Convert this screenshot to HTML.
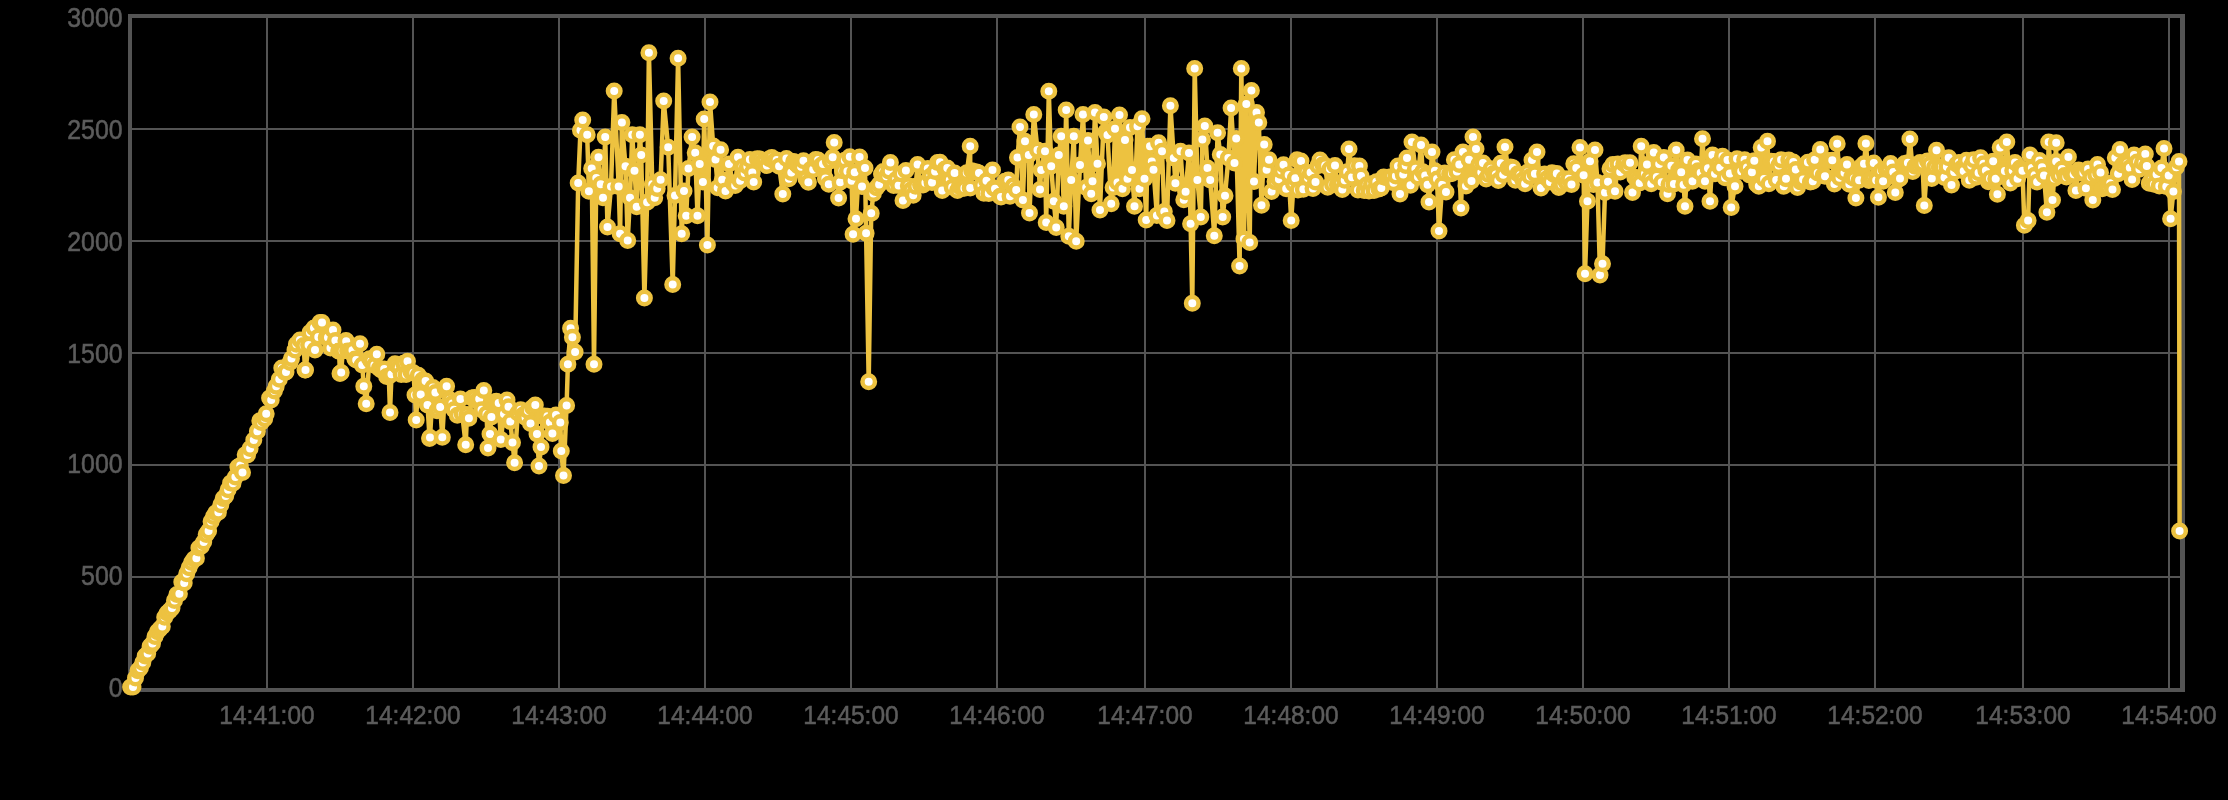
<!DOCTYPE html>
<html><head><meta charset="utf-8"><style>
html,body{margin:0;padding:0;background:#000;width:2228px;height:800px;overflow:hidden}
svg{display:block}
.lab{position:absolute;left:0;top:0;will-change:transform}
text{font-family:"Liberation Sans",sans-serif;font-size:24px;fill:#5c5c5c;stroke:#5c5c5c;stroke-width:0.5px}
</style></head><body>
<svg width="2228" height="800" viewBox="0 0 2228 800">
<rect width="2228" height="800" fill="#000"/>
<g fill="#545454"><rect x="266" y="18" width="2" height="670"/><rect x="412" y="18" width="2" height="670"/><rect x="558" y="18" width="2" height="670"/><rect x="704" y="18" width="2" height="670"/><rect x="850" y="18" width="2" height="670"/><rect x="996" y="18" width="2" height="670"/><rect x="1144" y="18" width="2" height="670"/><rect x="1290" y="18" width="2" height="670"/><rect x="1436" y="18" width="2" height="670"/><rect x="1582" y="18" width="2" height="670"/><rect x="1728" y="18" width="2" height="670"/><rect x="1874" y="18" width="2" height="670"/><rect x="2022" y="18" width="2" height="670"/><rect x="2168" y="18" width="2" height="670"/><rect x="132" y="128" width="2048" height="2"/><rect x="132" y="240" width="2048" height="2"/><rect x="132" y="352" width="2048" height="2"/><rect x="132" y="464" width="2048" height="2"/><rect x="132" y="576" width="2048" height="2"/><rect x="128" y="14" width="2057" height="4"/><rect x="128" y="688" width="2057" height="4"/><rect x="128" y="14" width="4" height="678"/><rect x="2180" y="14" width="5" height="678"/></g>
<path d="M130.6 687.0 L133.0 687.0 L135.5 678.1 L137.9 670.8 L140.4 668.1 L142.8 662.5 L145.2 656.1 L147.7 653.6 L150.1 646.2 L152.5 643.5 L155.0 636.6 L157.4 631.8 L159.9 628.9 L162.3 626.5 L164.7 617.3 L167.2 613.0 L169.6 610.7 L172.0 608.0 L174.5 600.6 L176.9 594.4 L179.4 593.7 L181.8 582.0 L184.2 583.1 L186.7 573.8 L189.1 567.7 L191.6 562.5 L194.0 559.0 L196.4 558.3 L198.9 547.9 L201.3 546.3 L203.7 541.9 L206.2 534.5 L208.6 531.0 L211.1 521.5 L213.5 516.4 L215.9 512.7 L218.4 512.2 L220.8 504.7 L223.2 498.4 L225.7 496.1 L228.1 489.7 L230.6 483.0 L233.0 483.2 L235.4 477.1 L237.9 466.9 L240.3 465.5 L242.5 472.5 L245.2 454.7 L247.5 455.0 L250.1 448.5 L253.8 440.0 L257.4 431.3 L259.8 420.8 L261.2 422.5 L264.7 418.7 L266.2 413.8 L269.6 397.9 L271.2 400.0 L274.4 391.0 L276.2 386.2 L279.3 379.2 L281.8 368.1 L285.0 372.5 L286.0 372.0 L290.0 362.5 L291.5 358.4 L295.0 350.0 L296.4 344.3 L300.0 340.0 L303.7 345.6 L305.0 370.0 L305.5 370.0 L308.6 345.0 L310.0 332.5 L314.0 328.0 L315.0 350.0 L318.3 336.9 L320.0 322.5 L322.0 322.5 L326.2 337.5 L328.0 337.5 L330.5 347.9 L333.0 330.0 L335.4 340.4 L338.8 351.2 L339.0 351.0 L340.0 373.5 L341.2 372.5 L342.7 351.0 L346.0 340.5 L346.2 341.2 L347.6 351.1 L350.0 351.8 L352.5 350.3 L354.9 359.1 L356.2 360.0 L360.0 343.8 L362.2 364.9 L363.8 386.2 L366.2 403.8 L369.5 358.7 L371.2 361.2 L374.4 365.3 L376.8 354.3 L379.3 368.6 L381.2 370.0 L384.2 369.0 L386.6 376.5 L388.8 376.2 L390.0 412.5 L391.5 374.3 L395.0 363.8 L396.3 364.8 L398.8 367.4 L401.2 374.5 L403.7 363.2 L406.1 374.5 L407.5 361.2 L411.0 372.0 L413.4 372.8 L415.0 395.0 L416.2 420.0 L418.3 375.2 L420.7 394.6 L422.5 380.0 L423.2 381.0 L425.6 381.0 L427.4 404.4 L427.5 405.0 L429.6 438.4 L430.0 437.5 L432.9 387.6 L435.4 392.4 L437.0 410.8 L437.5 410.0 L440.2 406.9 L442.3 437.3 L445.1 388.4 L446.6 386.3 L450.0 399.8 L452.4 403.5 L454.0 409.7 L457.3 415.2 L460.4 399.0 L462.2 414.1 L465.7 444.8 L467.0 414.4 L468.9 418.2 L472.0 398.0 L474.4 397.4 L476.8 400.7 L479.2 399.0 L481.6 409.7 L483.8 390.6 L486.5 413.9 L488.0 448.0 L490.0 434.0 L491.4 416.9 L493.3 402.3 L496.3 401.3 L498.7 402.9 L500.8 439.5 L504.0 414.0 L507.0 400.0 L508.5 406.8 L510.3 421.4 L512.5 442.6 L514.6 462.8 L517.8 413.0 L520.7 409.7 L523.1 415.1 L525.6 417.6 L528.0 410.8 L530.5 423.5 L532.6 407.6 L535.3 405.1 L537.0 434.0 L539.0 466.0 L541.0 447.0 L542.6 416.2 L544.3 416.0 L547.5 416.2 L549.9 422.2 L552.4 433.5 L556.0 415.0 L560.3 422.5 L561.3 451.0 L563.5 475.6 L566.6 405.5 L567.9 364.2 L570.6 328.2 L572.4 337.2 L575.1 352.0 L578.2 182.9 L580.5 130.2 L582.7 119.9 L587.2 134.7 L588.9 191.2 L591.7 168.5 L594.0 364.2 L596.3 178.1 L598.5 157.2 L600.7 184.2 L603.0 197.7 L605.2 137.0 L607.5 227.0 L611.0 186.5 L614.2 91.0 L618.7 186.5 L620.1 233.7 L621.9 122.6 L625.5 166.2 L627.7 240.5 L630.0 197.7 L632.2 134.7 L634.5 170.7 L636.7 206.7 L639.9 134.7 L641.2 155.0 L644.4 298.0 L647.1 202.2 L648.9 52.8 L652.3 184.3 L654.7 197.7 L657.2 188.4 L660.6 179.7 L663.7 101.0 L668.2 147.3 L672.7 284.5 L675.0 195.5 L678.1 58.2 L681.7 233.7 L684.0 191.0 L686.2 215.7 L688.5 168.5 L692.1 137.0 L695.2 152.7 L697.5 215.7 L699.7 164.0 L702.9 182.0 L704.2 119.0 L707.4 245.0 L710.0 101.9 L713.2 146.0 L715.5 159.5 L717.7 187.8 L720.6 149.7 L722.2 179.7 L725.5 191.1 L729.0 164.0 L732.8 182.8 L735.2 185.6 L738.0 157.2 L740.1 180.8 L742.5 166.8 L744.7 173.0 L747.4 166.6 L749.9 159.6 L752.3 172.4 L753.7 182.0 L757.2 158.7 L759.6 158.9 L762.0 162.3 L764.5 161.2 L766.9 165.6 L769.4 158.7 L771.8 157.5 L774.2 161.2 L776.7 160.0 L779.1 166.3 L782.8 194.0 L786.4 158.4 L788.9 178.8 L791.3 172.6 L793.7 161.5 L796.2 164.0 L798.6 166.3 L801.1 166.7 L803.5 160.8 L805.9 178.5 L808.4 182.2 L810.8 169.2 L813.2 169.6 L815.7 159.5 L818.1 159.9 L820.6 166.0 L823.0 163.9 L825.4 178.6 L828.8 184.3 L830.3 161.1 L832.7 157.3 L834.2 142.6 L838.6 198.0 L840.1 182.3 L842.5 170.8 L844.9 160.2 L847.4 171.2 L849.8 156.8 L851.6 180.7 L853.1 234.3 L854.7 172.3 L856.0 218.7 L859.6 157.0 L862.0 186.6 L865.0 168.0 L866.1 233.2 L868.7 381.8 L871.2 213.3 L873.4 193.4 L876.6 187.8 L879.1 184.4 L881.5 174.1 L883.2 171.6 L886.4 176.2 L888.8 171.0 L890.4 162.6 L893.7 185.6 L896.1 179.4 L898.6 185.5 L901.0 173.8 L903.0 200.6 L905.9 170.6 L908.3 185.7 L910.8 190.1 L913.2 195.2 L915.6 186.3 L917.6 164.4 L920.5 184.7 L923.0 184.9 L925.4 182.7 L927.8 168.6 L930.3 176.3 L932.0 182.5 L935.1 171.6 L937.6 162.5 L940.0 162.3 L942.2 190.5 L944.9 168.9 L947.3 168.1 L949.8 180.0 L952.2 187.2 L954.6 172.9 L957.5 190.5 L959.5 186.3 L962.0 188.3 L964.4 188.2 L966.8 172.8 L970.2 146.2 L970.2 188.0 L971.7 170.7 L974.1 171.8 L976.6 171.9 L979.0 173.1 L981.5 185.2 L983.9 193.3 L986.5 180.7 L988.8 193.4 L992.5 170.0 L993.7 188.0 L995.0 188.8 L1000.0 196.2 L1001.0 197.0 L1005.0 181.2 L1008.3 179.9 L1010.0 196.2 L1013.2 186.0 L1016.2 190.0 L1017.5 157.5 L1020.0 127.0 L1022.9 200.0 L1025.0 141.2 L1028.8 155.0 L1029.5 213.0 L1033.8 114.5 L1037.5 150.0 L1040.0 189.5 L1041.2 170.0 L1045.0 151.2 L1046.2 222.5 L1048.8 91.2 L1051.2 166.2 L1053.8 201.2 L1056.2 227.5 L1058.8 155.0 L1061.2 136.2 L1063.8 206.2 L1066.2 110.0 L1068.8 236.2 L1071.2 180.0 L1073.8 136.2 L1076.2 241.2 L1080.0 165.0 L1083.0 114.5 L1086.2 187.5 L1088.0 140.5 L1091.2 193.8 L1092.5 181.2 L1095.0 112.5 L1097.5 163.8 L1100.0 210.0 L1103.8 117.0 L1105.8 131.7 L1107.5 135.0 L1111.2 203.8 L1113.1 187.4 L1115.0 128.8 L1117.5 182.5 L1119.5 115.0 L1122.5 188.8 L1125.0 140.0 L1127.5 178.8 L1130.0 127.5 L1132.0 170.0 L1134.5 206.2 L1137.5 126.2 L1139.5 188.8 L1142.0 118.8 L1144.5 178.8 L1146.2 220.0 L1147.5 146.2 L1148.8 161.2 L1150.0 146.2 L1151.8 161.4 L1153.5 169.8 L1156.9 215.4 L1158.6 142.8 L1162.0 151.3 L1164.3 211.5 L1167.0 220.5 L1170.4 105.7 L1173.8 158.0 L1175.4 183.3 L1180.5 151.3 L1183.8 199.7 L1185.6 191.8 L1189.0 153.0 L1190.6 223.8 L1192.3 303.2 L1194.7 68.6 L1197.4 180.0 L1200.8 217.0 L1202.4 139.5 L1204.8 126.0 L1207.5 168.1 L1210.2 180.0 L1214.3 235.7 L1217.6 132.7 L1220.3 154.6 L1222.7 217.0 L1225.0 195.8 L1228.4 158.0 L1231.1 108.0 L1234.5 163.0 L1236.2 138.4 L1239.6 266.0 L1241.3 68.6 L1244.0 239.0 L1246.3 104.0 L1249.7 242.4 L1251.4 90.5 L1254.0 181.6 L1256.5 112.4 L1258.8 122.6 L1261.5 205.3 L1264.2 144.5 L1266.6 169.8 L1269.0 159.7 L1271.6 191.5 L1275.0 181.6 L1278.9 179.3 L1281.3 170.4 L1283.5 164.8 L1286.2 188.7 L1288.7 175.0 L1291.2 220.5 L1293.5 184.0 L1295.3 178.3 L1297.0 159.7 L1298.0 190.0 L1301.0 161.0 L1303.3 189.2 L1305.7 172.2 L1308.0 178.0 L1310.6 172.4 L1313.0 188.4 L1315.5 182.0 L1317.9 165.8 L1320.0 160.0 L1322.8 164.7 L1325.2 165.5 L1327.7 187.3 L1330.0 169.0 L1332.5 184.4 L1335.0 165.6 L1337.4 185.0 L1340.0 184.0 L1342.3 189.4 L1344.7 180.3 L1347.2 171.7 L1349.0 149.0 L1352.0 177.3 L1354.5 165.7 L1358.0 190.0 L1359.4 166.1 L1361.0 176.0 L1364.2 190.6 L1366.7 184.7 L1369.0 191.0 L1371.5 183.8 L1374.0 190.5 L1376.4 181.7 L1378.9 189.1 L1381.3 188.1 L1383.7 177.1 L1386.2 177.5 L1388.6 178.0 L1391.0 176.8 L1393.5 182.7 L1395.9 176.0 L1398.0 166.0 L1400.0 194.0 L1403.2 174.6 L1405.7 165.5 L1407.0 158.0 L1410.5 185.3 L1412.0 142.0 L1415.4 168.7 L1418.0 177.0 L1421.0 145.0 L1422.7 171.8 L1425.2 175.4 L1427.6 184.7 L1429.0 202.0 L1432.0 152.0 L1434.9 170.7 L1437.0 179.0 L1439.0 231.0 L1442.2 184.8 L1444.7 173.0 L1446.0 192.0 L1449.6 173.9 L1452.0 173.6 L1454.4 159.8 L1456.9 171.4 L1459.3 164.4 L1461.0 208.0 L1463.0 152.0 L1466.0 186.0 L1469.1 159.8 L1471.5 180.9 L1473.0 137.0 L1476.0 149.0 L1478.8 164.5 L1481.3 172.3 L1483.0 163.0 L1486.1 178.9 L1488.6 174.6 L1491.0 168.7 L1493.4 173.6 L1495.9 174.6 L1498.3 180.5 L1500.8 163.2 L1503.2 174.8 L1505.0 147.0 L1508.0 168.0 L1510.5 167.0 L1512.9 167.8 L1515.4 180.3 L1517.8 173.7 L1520.3 175.0 L1522.7 180.0 L1525.1 183.8 L1527.6 172.2 L1530.0 176.4 L1532.0 160.0 L1534.9 173.8 L1537.0 152.0 L1541.0 188.0 L1544.6 174.1 L1547.1 178.5 L1550.0 182.0 L1552.0 172.7 L1554.4 174.7 L1556.8 173.4 L1558.8 187.5 L1561.7 184.6 L1564.1 178.7 L1566.6 183.0 L1568.8 178.8 L1571.5 184.5 L1573.8 163.8 L1576.3 168.0 L1580.0 147.5 L1583.6 175.2 L1585.0 273.8 L1587.5 201.2 L1590.0 161.2 L1593.4 184.4 L1595.0 150.0 L1597.5 182.5 L1600.0 275.0 L1602.5 263.8 L1605.0 192.5 L1608.0 181.7 L1610.0 168.8 L1612.9 164.6 L1615.0 191.2 L1617.8 164.1 L1620.2 171.9 L1623.8 163.8 L1625.1 162.8 L1627.5 166.9 L1630.0 162.8 L1632.5 192.5 L1634.8 177.3 L1637.3 180.1 L1639.7 182.9 L1641.2 146.2 L1645.0 173.8 L1647.0 164.5 L1649.5 178.3 L1651.2 183.8 L1653.8 152.5 L1656.8 176.9 L1659.2 164.1 L1661.7 182.3 L1663.8 157.5 L1667.5 193.8 L1669.0 184.4 L1671.4 165.8 L1673.9 184.0 L1676.2 150.0 L1678.7 170.1 L1681.2 172.3 L1683.6 184.8 L1685.0 206.2 L1687.5 160.0 L1690.9 180.8 L1692.5 181.2 L1695.8 164.0 L1698.2 170.8 L1700.7 172.8 L1702.5 138.8 L1705.0 181.2 L1708.0 168.3 L1710.0 201.2 L1712.5 155.0 L1715.0 173.8 L1717.7 164.6 L1720.2 167.6 L1722.5 156.2 L1725.1 177.8 L1727.5 160.0 L1729.9 173.5 L1731.2 207.5 L1735.0 186.2 L1737.0 158.8 L1739.7 170.5 L1741.2 171.2 L1744.6 159.7 L1747.0 167.6 L1749.4 175.0 L1751.9 172.2 L1754.3 160.8 L1756.7 184.2 L1758.8 186.2 L1761.2 147.5 L1764.1 179.1 L1767.5 141.2 L1768.9 183.7 L1771.2 161.2 L1773.8 161.5 L1776.2 180.0 L1778.7 165.6 L1781.1 159.7 L1783.8 186.2 L1786.0 178.7 L1788.8 160.0 L1790.9 165.5 L1793.3 161.9 L1795.8 169.4 L1797.5 187.5 L1800.6 181.9 L1803.1 179.5 L1805.5 165.0 L1807.9 162.2 L1810.4 182.1 L1812.8 181.2 L1814.7 159.7 L1817.7 173.0 L1820.3 149.4 L1823.1 175.6 L1825.0 176.3 L1827.4 160.4 L1830.6 160.6 L1832.3 160.2 L1834.4 184.0 L1837.2 143.7 L1839.6 177.8 L1841.9 170.9 L1844.5 172.7 L1847.0 164.6 L1849.4 184.2 L1851.8 177.1 L1854.0 178.4 L1855.9 198.1 L1859.1 180.3 L1861.5 166.2 L1864.0 163.8 L1865.9 143.4 L1868.9 180.6 L1871.9 179.4 L1873.8 162.9 L1876.2 180.2 L1878.4 197.2 L1881.1 170.9 L1883.1 181.2 L1885.9 169.0 L1888.4 167.9 L1890.6 163.4 L1893.3 172.1 L1895.3 192.5 L1898.2 179.6 L1900.0 178.4 L1903.0 165.7 L1904.7 163.4 L1907.9 162.8 L1909.9 139.0 L1912.8 171.4 L1915.0 166.2 L1917.7 165.2 L1920.1 162.4 L1922.5 163.6 L1924.3 205.6 L1927.4 161.1 L1929.8 164.5 L1931.8 178.4 L1934.7 167.1 L1936.5 150.3 L1939.3 167.2 L1942.0 167.0 L1944.5 177.6 L1946.9 166.8 L1948.7 157.8 L1951.5 185.0 L1954.2 171.9 L1956.7 164.2 L1959.0 162.5 L1961.5 168.3 L1963.7 170.9 L1966.4 160.2 L1969.3 180.3 L1971.3 165.6 L1973.7 159.8 L1976.2 177.2 L1978.6 172.7 L1980.6 157.8 L1983.5 163.7 L1985.9 170.6 L1988.4 181.8 L1990.0 178.4 L1993.2 161.3 L1995.7 178.8 L1997.4 194.3 L2000.2 147.5 L2003.0 169.0 L2004.9 170.9 L2006.8 141.9 L2010.3 183.1 L2012.7 170.4 L2015.0 162.5 L2017.6 178.8 L2020.0 168.0 L2022.5 170.8 L2024.4 225.3 L2028.1 220.6 L2030.0 155.0 L2031.9 168.1 L2034.7 175.2 L2037.1 182.0 L2039.4 160.6 L2042.0 167.2 L2044.0 175.6 L2046.9 212.2 L2048.7 141.9 L2052.5 200.0 L2054.2 178.4 L2056.2 142.8 L2056.2 161.5 L2059.1 175.6 L2061.9 169.0 L2064.7 175.6 L2066.4 177.1 L2068.4 156.9 L2071.2 174.3 L2073.7 174.2 L2075.9 190.6 L2078.6 170.1 L2081.0 172.9 L2083.4 172.8 L2085.9 188.2 L2088.1 169.0 L2090.8 177.0 L2092.8 200.0 L2095.6 174.6 L2097.5 164.4 L2100.5 172.5 L2102.2 188.7 L2105.4 187.5 L2107.8 187.7 L2110.3 183.2 L2112.5 189.6 L2115.3 157.8 L2118.1 173.7 L2120.0 149.4 L2122.4 165.0 L2124.9 161.9 L2127.3 163.4 L2129.8 167.8 L2132.1 179.4 L2134.0 155.0 L2137.1 161.9 L2139.5 169.2 L2142.5 162.5 L2145.3 154.0 L2146.8 166.1 L2149.3 183.2 L2151.8 179.4 L2154.1 184.3 L2156.6 174.5 L2159.3 185.9 L2161.5 168.1 L2164.0 148.4 L2166.3 186.6 L2168.7 175.6 L2170.6 218.7 L2173.4 191.5 L2176.2 167.2 L2179.0 161.5 L2179.6 531.0" fill="none" stroke="#EDC240" stroke-width="4.5" stroke-linejoin="round"/>
<g fill="#fff" stroke="#EDC240" stroke-width="4.5"><circle cx="130.6" cy="687.0" r="6.25"/><circle cx="133.0" cy="687.0" r="6.25"/><circle cx="135.5" cy="678.1" r="6.25"/><circle cx="137.9" cy="670.8" r="6.25"/><circle cx="140.4" cy="668.1" r="6.25"/><circle cx="142.8" cy="662.5" r="6.25"/><circle cx="145.2" cy="656.1" r="6.25"/><circle cx="147.7" cy="653.6" r="6.25"/><circle cx="150.1" cy="646.2" r="6.25"/><circle cx="152.5" cy="643.5" r="6.25"/><circle cx="155.0" cy="636.6" r="6.25"/><circle cx="157.4" cy="631.8" r="6.25"/><circle cx="159.9" cy="628.9" r="6.25"/><circle cx="162.3" cy="626.5" r="6.25"/><circle cx="164.7" cy="617.3" r="6.25"/><circle cx="167.2" cy="613.0" r="6.25"/><circle cx="169.6" cy="610.7" r="6.25"/><circle cx="172.0" cy="608.0" r="6.25"/><circle cx="174.5" cy="600.6" r="6.25"/><circle cx="176.9" cy="594.4" r="6.25"/><circle cx="179.4" cy="593.7" r="6.25"/><circle cx="181.8" cy="582.0" r="6.25"/><circle cx="184.2" cy="583.1" r="6.25"/><circle cx="186.7" cy="573.8" r="6.25"/><circle cx="189.1" cy="567.7" r="6.25"/><circle cx="191.6" cy="562.5" r="6.25"/><circle cx="194.0" cy="559.0" r="6.25"/><circle cx="196.4" cy="558.3" r="6.25"/><circle cx="198.9" cy="547.9" r="6.25"/><circle cx="201.3" cy="546.3" r="6.25"/><circle cx="203.7" cy="541.9" r="6.25"/><circle cx="206.2" cy="534.5" r="6.25"/><circle cx="208.6" cy="531.0" r="6.25"/><circle cx="211.1" cy="521.5" r="6.25"/><circle cx="213.5" cy="516.4" r="6.25"/><circle cx="215.9" cy="512.7" r="6.25"/><circle cx="218.4" cy="512.2" r="6.25"/><circle cx="220.8" cy="504.7" r="6.25"/><circle cx="223.2" cy="498.4" r="6.25"/><circle cx="225.7" cy="496.1" r="6.25"/><circle cx="228.1" cy="489.7" r="6.25"/><circle cx="230.6" cy="483.0" r="6.25"/><circle cx="233.0" cy="483.2" r="6.25"/><circle cx="235.4" cy="477.1" r="6.25"/><circle cx="237.9" cy="466.9" r="6.25"/><circle cx="240.3" cy="465.5" r="6.25"/><circle cx="242.5" cy="472.5" r="6.25"/><circle cx="245.2" cy="454.7" r="6.25"/><circle cx="247.5" cy="455.0" r="6.25"/><circle cx="250.1" cy="448.5" r="6.25"/><circle cx="253.8" cy="440.0" r="6.25"/><circle cx="257.4" cy="431.3" r="6.25"/><circle cx="259.8" cy="420.8" r="6.25"/><circle cx="261.2" cy="422.5" r="6.25"/><circle cx="264.7" cy="418.7" r="6.25"/><circle cx="266.2" cy="413.8" r="6.25"/><circle cx="269.6" cy="397.9" r="6.25"/><circle cx="271.2" cy="400.0" r="6.25"/><circle cx="274.4" cy="391.0" r="6.25"/><circle cx="276.2" cy="386.2" r="6.25"/><circle cx="279.3" cy="379.2" r="6.25"/><circle cx="281.8" cy="368.1" r="6.25"/><circle cx="285.0" cy="372.5" r="6.25"/><circle cx="286.0" cy="372.0" r="6.25"/><circle cx="290.0" cy="362.5" r="6.25"/><circle cx="291.5" cy="358.4" r="6.25"/><circle cx="295.0" cy="350.0" r="6.25"/><circle cx="296.4" cy="344.3" r="6.25"/><circle cx="300.0" cy="340.0" r="6.25"/><circle cx="303.7" cy="345.6" r="6.25"/><circle cx="305.0" cy="370.0" r="6.25"/><circle cx="305.5" cy="370.0" r="6.25"/><circle cx="308.6" cy="345.0" r="6.25"/><circle cx="310.0" cy="332.5" r="6.25"/><circle cx="314.0" cy="328.0" r="6.25"/><circle cx="315.0" cy="350.0" r="6.25"/><circle cx="318.3" cy="336.9" r="6.25"/><circle cx="320.0" cy="322.5" r="6.25"/><circle cx="322.0" cy="322.5" r="6.25"/><circle cx="326.2" cy="337.5" r="6.25"/><circle cx="328.0" cy="337.5" r="6.25"/><circle cx="330.5" cy="347.9" r="6.25"/><circle cx="333.0" cy="330.0" r="6.25"/><circle cx="335.4" cy="340.4" r="6.25"/><circle cx="338.8" cy="351.2" r="6.25"/><circle cx="339.0" cy="351.0" r="6.25"/><circle cx="340.0" cy="373.5" r="6.25"/><circle cx="341.2" cy="372.5" r="6.25"/><circle cx="342.7" cy="351.0" r="6.25"/><circle cx="346.0" cy="340.5" r="6.25"/><circle cx="346.2" cy="341.2" r="6.25"/><circle cx="347.6" cy="351.1" r="6.25"/><circle cx="350.0" cy="351.8" r="6.25"/><circle cx="352.5" cy="350.3" r="6.25"/><circle cx="354.9" cy="359.1" r="6.25"/><circle cx="356.2" cy="360.0" r="6.25"/><circle cx="360.0" cy="343.8" r="6.25"/><circle cx="362.2" cy="364.9" r="6.25"/><circle cx="363.8" cy="386.2" r="6.25"/><circle cx="366.2" cy="403.8" r="6.25"/><circle cx="369.5" cy="358.7" r="6.25"/><circle cx="371.2" cy="361.2" r="6.25"/><circle cx="374.4" cy="365.3" r="6.25"/><circle cx="376.8" cy="354.3" r="6.25"/><circle cx="379.3" cy="368.6" r="6.25"/><circle cx="381.2" cy="370.0" r="6.25"/><circle cx="384.2" cy="369.0" r="6.25"/><circle cx="386.6" cy="376.5" r="6.25"/><circle cx="388.8" cy="376.2" r="6.25"/><circle cx="390.0" cy="412.5" r="6.25"/><circle cx="391.5" cy="374.3" r="6.25"/><circle cx="395.0" cy="363.8" r="6.25"/><circle cx="396.3" cy="364.8" r="6.25"/><circle cx="398.8" cy="367.4" r="6.25"/><circle cx="401.2" cy="374.5" r="6.25"/><circle cx="403.7" cy="363.2" r="6.25"/><circle cx="406.1" cy="374.5" r="6.25"/><circle cx="407.5" cy="361.2" r="6.25"/><circle cx="411.0" cy="372.0" r="6.25"/><circle cx="413.4" cy="372.8" r="6.25"/><circle cx="415.0" cy="395.0" r="6.25"/><circle cx="416.2" cy="420.0" r="6.25"/><circle cx="418.3" cy="375.2" r="6.25"/><circle cx="420.7" cy="394.6" r="6.25"/><circle cx="422.5" cy="380.0" r="6.25"/><circle cx="423.2" cy="381.0" r="6.25"/><circle cx="425.6" cy="381.0" r="6.25"/><circle cx="427.4" cy="404.4" r="6.25"/><circle cx="427.5" cy="405.0" r="6.25"/><circle cx="429.6" cy="438.4" r="6.25"/><circle cx="430.0" cy="437.5" r="6.25"/><circle cx="432.9" cy="387.6" r="6.25"/><circle cx="435.4" cy="392.4" r="6.25"/><circle cx="437.0" cy="410.8" r="6.25"/><circle cx="437.5" cy="410.0" r="6.25"/><circle cx="440.2" cy="406.9" r="6.25"/><circle cx="442.3" cy="437.3" r="6.25"/><circle cx="445.1" cy="388.4" r="6.25"/><circle cx="446.6" cy="386.3" r="6.25"/><circle cx="450.0" cy="399.8" r="6.25"/><circle cx="452.4" cy="403.5" r="6.25"/><circle cx="454.0" cy="409.7" r="6.25"/><circle cx="457.3" cy="415.2" r="6.25"/><circle cx="460.4" cy="399.0" r="6.25"/><circle cx="462.2" cy="414.1" r="6.25"/><circle cx="465.7" cy="444.8" r="6.25"/><circle cx="467.0" cy="414.4" r="6.25"/><circle cx="468.9" cy="418.2" r="6.25"/><circle cx="472.0" cy="398.0" r="6.25"/><circle cx="474.4" cy="397.4" r="6.25"/><circle cx="476.8" cy="400.7" r="6.25"/><circle cx="479.2" cy="399.0" r="6.25"/><circle cx="481.6" cy="409.7" r="6.25"/><circle cx="483.8" cy="390.6" r="6.25"/><circle cx="486.5" cy="413.9" r="6.25"/><circle cx="488.0" cy="448.0" r="6.25"/><circle cx="490.0" cy="434.0" r="6.25"/><circle cx="491.4" cy="416.9" r="6.25"/><circle cx="493.3" cy="402.3" r="6.25"/><circle cx="496.3" cy="401.3" r="6.25"/><circle cx="498.7" cy="402.9" r="6.25"/><circle cx="500.8" cy="439.5" r="6.25"/><circle cx="504.0" cy="414.0" r="6.25"/><circle cx="507.0" cy="400.0" r="6.25"/><circle cx="508.5" cy="406.8" r="6.25"/><circle cx="510.3" cy="421.4" r="6.25"/><circle cx="512.5" cy="442.6" r="6.25"/><circle cx="514.6" cy="462.8" r="6.25"/><circle cx="517.8" cy="413.0" r="6.25"/><circle cx="520.7" cy="409.7" r="6.25"/><circle cx="523.1" cy="415.1" r="6.25"/><circle cx="525.6" cy="417.6" r="6.25"/><circle cx="528.0" cy="410.8" r="6.25"/><circle cx="530.5" cy="423.5" r="6.25"/><circle cx="532.6" cy="407.6" r="6.25"/><circle cx="535.3" cy="405.1" r="6.25"/><circle cx="537.0" cy="434.0" r="6.25"/><circle cx="539.0" cy="466.0" r="6.25"/><circle cx="541.0" cy="447.0" r="6.25"/><circle cx="542.6" cy="416.2" r="6.25"/><circle cx="544.3" cy="416.0" r="6.25"/><circle cx="547.5" cy="416.2" r="6.25"/><circle cx="549.9" cy="422.2" r="6.25"/><circle cx="552.4" cy="433.5" r="6.25"/><circle cx="556.0" cy="415.0" r="6.25"/><circle cx="560.3" cy="422.5" r="6.25"/><circle cx="561.3" cy="451.0" r="6.25"/><circle cx="563.5" cy="475.6" r="6.25"/><circle cx="566.6" cy="405.5" r="6.25"/><circle cx="567.9" cy="364.2" r="6.25"/><circle cx="570.6" cy="328.2" r="6.25"/><circle cx="572.4" cy="337.2" r="6.25"/><circle cx="575.1" cy="352.0" r="6.25"/><circle cx="578.2" cy="182.9" r="6.25"/><circle cx="580.5" cy="130.2" r="6.25"/><circle cx="582.7" cy="119.9" r="6.25"/><circle cx="587.2" cy="134.7" r="6.25"/><circle cx="588.9" cy="191.2" r="6.25"/><circle cx="591.7" cy="168.5" r="6.25"/><circle cx="594.0" cy="364.2" r="6.25"/><circle cx="596.3" cy="178.1" r="6.25"/><circle cx="598.5" cy="157.2" r="6.25"/><circle cx="600.7" cy="184.2" r="6.25"/><circle cx="603.0" cy="197.7" r="6.25"/><circle cx="605.2" cy="137.0" r="6.25"/><circle cx="607.5" cy="227.0" r="6.25"/><circle cx="611.0" cy="186.5" r="6.25"/><circle cx="614.2" cy="91.0" r="6.25"/><circle cx="618.7" cy="186.5" r="6.25"/><circle cx="620.1" cy="233.7" r="6.25"/><circle cx="621.9" cy="122.6" r="6.25"/><circle cx="625.5" cy="166.2" r="6.25"/><circle cx="627.7" cy="240.5" r="6.25"/><circle cx="630.0" cy="197.7" r="6.25"/><circle cx="632.2" cy="134.7" r="6.25"/><circle cx="634.5" cy="170.7" r="6.25"/><circle cx="636.7" cy="206.7" r="6.25"/><circle cx="639.9" cy="134.7" r="6.25"/><circle cx="641.2" cy="155.0" r="6.25"/><circle cx="644.4" cy="298.0" r="6.25"/><circle cx="647.1" cy="202.2" r="6.25"/><circle cx="648.9" cy="52.8" r="6.25"/><circle cx="652.3" cy="184.3" r="6.25"/><circle cx="654.7" cy="197.7" r="6.25"/><circle cx="657.2" cy="188.4" r="6.25"/><circle cx="660.6" cy="179.7" r="6.25"/><circle cx="663.7" cy="101.0" r="6.25"/><circle cx="668.2" cy="147.3" r="6.25"/><circle cx="672.7" cy="284.5" r="6.25"/><circle cx="675.0" cy="195.5" r="6.25"/><circle cx="678.1" cy="58.2" r="6.25"/><circle cx="681.7" cy="233.7" r="6.25"/><circle cx="684.0" cy="191.0" r="6.25"/><circle cx="686.2" cy="215.7" r="6.25"/><circle cx="688.5" cy="168.5" r="6.25"/><circle cx="692.1" cy="137.0" r="6.25"/><circle cx="695.2" cy="152.7" r="6.25"/><circle cx="697.5" cy="215.7" r="6.25"/><circle cx="699.7" cy="164.0" r="6.25"/><circle cx="702.9" cy="182.0" r="6.25"/><circle cx="704.2" cy="119.0" r="6.25"/><circle cx="707.4" cy="245.0" r="6.25"/><circle cx="710.0" cy="101.9" r="6.25"/><circle cx="713.2" cy="146.0" r="6.25"/><circle cx="715.5" cy="159.5" r="6.25"/><circle cx="717.7" cy="187.8" r="6.25"/><circle cx="720.6" cy="149.7" r="6.25"/><circle cx="722.2" cy="179.7" r="6.25"/><circle cx="725.5" cy="191.1" r="6.25"/><circle cx="729.0" cy="164.0" r="6.25"/><circle cx="732.8" cy="182.8" r="6.25"/><circle cx="735.2" cy="185.6" r="6.25"/><circle cx="738.0" cy="157.2" r="6.25"/><circle cx="740.1" cy="180.8" r="6.25"/><circle cx="742.5" cy="166.8" r="6.25"/><circle cx="744.7" cy="173.0" r="6.25"/><circle cx="747.4" cy="166.6" r="6.25"/><circle cx="749.9" cy="159.6" r="6.25"/><circle cx="752.3" cy="172.4" r="6.25"/><circle cx="753.7" cy="182.0" r="6.25"/><circle cx="757.2" cy="158.7" r="6.25"/><circle cx="759.6" cy="158.9" r="6.25"/><circle cx="762.0" cy="162.3" r="6.25"/><circle cx="764.5" cy="161.2" r="6.25"/><circle cx="766.9" cy="165.6" r="6.25"/><circle cx="769.4" cy="158.7" r="6.25"/><circle cx="771.8" cy="157.5" r="6.25"/><circle cx="774.2" cy="161.2" r="6.25"/><circle cx="776.7" cy="160.0" r="6.25"/><circle cx="779.1" cy="166.3" r="6.25"/><circle cx="782.8" cy="194.0" r="6.25"/><circle cx="786.4" cy="158.4" r="6.25"/><circle cx="788.9" cy="178.8" r="6.25"/><circle cx="791.3" cy="172.6" r="6.25"/><circle cx="793.7" cy="161.5" r="6.25"/><circle cx="796.2" cy="164.0" r="6.25"/><circle cx="798.6" cy="166.3" r="6.25"/><circle cx="801.1" cy="166.7" r="6.25"/><circle cx="803.5" cy="160.8" r="6.25"/><circle cx="805.9" cy="178.5" r="6.25"/><circle cx="808.4" cy="182.2" r="6.25"/><circle cx="810.8" cy="169.2" r="6.25"/><circle cx="813.2" cy="169.6" r="6.25"/><circle cx="815.7" cy="159.5" r="6.25"/><circle cx="818.1" cy="159.9" r="6.25"/><circle cx="820.6" cy="166.0" r="6.25"/><circle cx="823.0" cy="163.9" r="6.25"/><circle cx="825.4" cy="178.6" r="6.25"/><circle cx="828.8" cy="184.3" r="6.25"/><circle cx="830.3" cy="161.1" r="6.25"/><circle cx="832.7" cy="157.3" r="6.25"/><circle cx="834.2" cy="142.6" r="6.25"/><circle cx="838.6" cy="198.0" r="6.25"/><circle cx="840.1" cy="182.3" r="6.25"/><circle cx="842.5" cy="170.8" r="6.25"/><circle cx="844.9" cy="160.2" r="6.25"/><circle cx="847.4" cy="171.2" r="6.25"/><circle cx="849.8" cy="156.8" r="6.25"/><circle cx="851.6" cy="180.7" r="6.25"/><circle cx="853.1" cy="234.3" r="6.25"/><circle cx="854.7" cy="172.3" r="6.25"/><circle cx="856.0" cy="218.7" r="6.25"/><circle cx="859.6" cy="157.0" r="6.25"/><circle cx="862.0" cy="186.6" r="6.25"/><circle cx="865.0" cy="168.0" r="6.25"/><circle cx="866.1" cy="233.2" r="6.25"/><circle cx="868.7" cy="381.8" r="6.25"/><circle cx="871.2" cy="213.3" r="6.25"/><circle cx="873.4" cy="193.4" r="6.25"/><circle cx="876.6" cy="187.8" r="6.25"/><circle cx="879.1" cy="184.4" r="6.25"/><circle cx="881.5" cy="174.1" r="6.25"/><circle cx="883.2" cy="171.6" r="6.25"/><circle cx="886.4" cy="176.2" r="6.25"/><circle cx="888.8" cy="171.0" r="6.25"/><circle cx="890.4" cy="162.6" r="6.25"/><circle cx="893.7" cy="185.6" r="6.25"/><circle cx="896.1" cy="179.4" r="6.25"/><circle cx="898.6" cy="185.5" r="6.25"/><circle cx="901.0" cy="173.8" r="6.25"/><circle cx="903.0" cy="200.6" r="6.25"/><circle cx="905.9" cy="170.6" r="6.25"/><circle cx="908.3" cy="185.7" r="6.25"/><circle cx="910.8" cy="190.1" r="6.25"/><circle cx="913.2" cy="195.2" r="6.25"/><circle cx="915.6" cy="186.3" r="6.25"/><circle cx="917.6" cy="164.4" r="6.25"/><circle cx="920.5" cy="184.7" r="6.25"/><circle cx="923.0" cy="184.9" r="6.25"/><circle cx="925.4" cy="182.7" r="6.25"/><circle cx="927.8" cy="168.6" r="6.25"/><circle cx="930.3" cy="176.3" r="6.25"/><circle cx="932.0" cy="182.5" r="6.25"/><circle cx="935.1" cy="171.6" r="6.25"/><circle cx="937.6" cy="162.5" r="6.25"/><circle cx="940.0" cy="162.3" r="6.25"/><circle cx="942.2" cy="190.5" r="6.25"/><circle cx="944.9" cy="168.9" r="6.25"/><circle cx="947.3" cy="168.1" r="6.25"/><circle cx="949.8" cy="180.0" r="6.25"/><circle cx="952.2" cy="187.2" r="6.25"/><circle cx="954.6" cy="172.9" r="6.25"/><circle cx="957.5" cy="190.5" r="6.25"/><circle cx="959.5" cy="186.3" r="6.25"/><circle cx="962.0" cy="188.3" r="6.25"/><circle cx="964.4" cy="188.2" r="6.25"/><circle cx="966.8" cy="172.8" r="6.25"/><circle cx="970.2" cy="146.2" r="6.25"/><circle cx="970.2" cy="188.0" r="6.25"/><circle cx="971.7" cy="170.7" r="6.25"/><circle cx="974.1" cy="171.8" r="6.25"/><circle cx="976.6" cy="171.9" r="6.25"/><circle cx="979.0" cy="173.1" r="6.25"/><circle cx="981.5" cy="185.2" r="6.25"/><circle cx="983.9" cy="193.3" r="6.25"/><circle cx="986.5" cy="180.7" r="6.25"/><circle cx="988.8" cy="193.4" r="6.25"/><circle cx="992.5" cy="170.0" r="6.25"/><circle cx="993.7" cy="188.0" r="6.25"/><circle cx="995.0" cy="188.8" r="6.25"/><circle cx="1000.0" cy="196.2" r="6.25"/><circle cx="1001.0" cy="197.0" r="6.25"/><circle cx="1005.0" cy="181.2" r="6.25"/><circle cx="1008.3" cy="179.9" r="6.25"/><circle cx="1010.0" cy="196.2" r="6.25"/><circle cx="1013.2" cy="186.0" r="6.25"/><circle cx="1016.2" cy="190.0" r="6.25"/><circle cx="1017.5" cy="157.5" r="6.25"/><circle cx="1020.0" cy="127.0" r="6.25"/><circle cx="1022.9" cy="200.0" r="6.25"/><circle cx="1025.0" cy="141.2" r="6.25"/><circle cx="1028.8" cy="155.0" r="6.25"/><circle cx="1029.5" cy="213.0" r="6.25"/><circle cx="1033.8" cy="114.5" r="6.25"/><circle cx="1037.5" cy="150.0" r="6.25"/><circle cx="1040.0" cy="189.5" r="6.25"/><circle cx="1041.2" cy="170.0" r="6.25"/><circle cx="1045.0" cy="151.2" r="6.25"/><circle cx="1046.2" cy="222.5" r="6.25"/><circle cx="1048.8" cy="91.2" r="6.25"/><circle cx="1051.2" cy="166.2" r="6.25"/><circle cx="1053.8" cy="201.2" r="6.25"/><circle cx="1056.2" cy="227.5" r="6.25"/><circle cx="1058.8" cy="155.0" r="6.25"/><circle cx="1061.2" cy="136.2" r="6.25"/><circle cx="1063.8" cy="206.2" r="6.25"/><circle cx="1066.2" cy="110.0" r="6.25"/><circle cx="1068.8" cy="236.2" r="6.25"/><circle cx="1071.2" cy="180.0" r="6.25"/><circle cx="1073.8" cy="136.2" r="6.25"/><circle cx="1076.2" cy="241.2" r="6.25"/><circle cx="1080.0" cy="165.0" r="6.25"/><circle cx="1083.0" cy="114.5" r="6.25"/><circle cx="1086.2" cy="187.5" r="6.25"/><circle cx="1088.0" cy="140.5" r="6.25"/><circle cx="1091.2" cy="193.8" r="6.25"/><circle cx="1092.5" cy="181.2" r="6.25"/><circle cx="1095.0" cy="112.5" r="6.25"/><circle cx="1097.5" cy="163.8" r="6.25"/><circle cx="1100.0" cy="210.0" r="6.25"/><circle cx="1103.8" cy="117.0" r="6.25"/><circle cx="1105.8" cy="131.7" r="6.25"/><circle cx="1107.5" cy="135.0" r="6.25"/><circle cx="1111.2" cy="203.8" r="6.25"/><circle cx="1113.1" cy="187.4" r="6.25"/><circle cx="1115.0" cy="128.8" r="6.25"/><circle cx="1117.5" cy="182.5" r="6.25"/><circle cx="1119.5" cy="115.0" r="6.25"/><circle cx="1122.5" cy="188.8" r="6.25"/><circle cx="1125.0" cy="140.0" r="6.25"/><circle cx="1127.5" cy="178.8" r="6.25"/><circle cx="1130.0" cy="127.5" r="6.25"/><circle cx="1132.0" cy="170.0" r="6.25"/><circle cx="1134.5" cy="206.2" r="6.25"/><circle cx="1137.5" cy="126.2" r="6.25"/><circle cx="1139.5" cy="188.8" r="6.25"/><circle cx="1142.0" cy="118.8" r="6.25"/><circle cx="1144.5" cy="178.8" r="6.25"/><circle cx="1146.2" cy="220.0" r="6.25"/><circle cx="1147.5" cy="146.2" r="6.25"/><circle cx="1148.8" cy="161.2" r="6.25"/><circle cx="1150.0" cy="146.2" r="6.25"/><circle cx="1151.8" cy="161.4" r="6.25"/><circle cx="1153.5" cy="169.8" r="6.25"/><circle cx="1156.9" cy="215.4" r="6.25"/><circle cx="1158.6" cy="142.8" r="6.25"/><circle cx="1162.0" cy="151.3" r="6.25"/><circle cx="1164.3" cy="211.5" r="6.25"/><circle cx="1167.0" cy="220.5" r="6.25"/><circle cx="1170.4" cy="105.7" r="6.25"/><circle cx="1173.8" cy="158.0" r="6.25"/><circle cx="1175.4" cy="183.3" r="6.25"/><circle cx="1180.5" cy="151.3" r="6.25"/><circle cx="1183.8" cy="199.7" r="6.25"/><circle cx="1185.6" cy="191.8" r="6.25"/><circle cx="1189.0" cy="153.0" r="6.25"/><circle cx="1190.6" cy="223.8" r="6.25"/><circle cx="1192.3" cy="303.2" r="6.25"/><circle cx="1194.7" cy="68.6" r="6.25"/><circle cx="1197.4" cy="180.0" r="6.25"/><circle cx="1200.8" cy="217.0" r="6.25"/><circle cx="1202.4" cy="139.5" r="6.25"/><circle cx="1204.8" cy="126.0" r="6.25"/><circle cx="1207.5" cy="168.1" r="6.25"/><circle cx="1210.2" cy="180.0" r="6.25"/><circle cx="1214.3" cy="235.7" r="6.25"/><circle cx="1217.6" cy="132.7" r="6.25"/><circle cx="1220.3" cy="154.6" r="6.25"/><circle cx="1222.7" cy="217.0" r="6.25"/><circle cx="1225.0" cy="195.8" r="6.25"/><circle cx="1228.4" cy="158.0" r="6.25"/><circle cx="1231.1" cy="108.0" r="6.25"/><circle cx="1234.5" cy="163.0" r="6.25"/><circle cx="1236.2" cy="138.4" r="6.25"/><circle cx="1239.6" cy="266.0" r="6.25"/><circle cx="1241.3" cy="68.6" r="6.25"/><circle cx="1244.0" cy="239.0" r="6.25"/><circle cx="1246.3" cy="104.0" r="6.25"/><circle cx="1249.7" cy="242.4" r="6.25"/><circle cx="1251.4" cy="90.5" r="6.25"/><circle cx="1254.0" cy="181.6" r="6.25"/><circle cx="1256.5" cy="112.4" r="6.25"/><circle cx="1258.8" cy="122.6" r="6.25"/><circle cx="1261.5" cy="205.3" r="6.25"/><circle cx="1264.2" cy="144.5" r="6.25"/><circle cx="1266.6" cy="169.8" r="6.25"/><circle cx="1269.0" cy="159.7" r="6.25"/><circle cx="1271.6" cy="191.5" r="6.25"/><circle cx="1275.0" cy="181.6" r="6.25"/><circle cx="1278.9" cy="179.3" r="6.25"/><circle cx="1281.3" cy="170.4" r="6.25"/><circle cx="1283.5" cy="164.8" r="6.25"/><circle cx="1286.2" cy="188.7" r="6.25"/><circle cx="1288.7" cy="175.0" r="6.25"/><circle cx="1291.2" cy="220.5" r="6.25"/><circle cx="1293.5" cy="184.0" r="6.25"/><circle cx="1295.3" cy="178.3" r="6.25"/><circle cx="1297.0" cy="159.7" r="6.25"/><circle cx="1298.0" cy="190.0" r="6.25"/><circle cx="1301.0" cy="161.0" r="6.25"/><circle cx="1303.3" cy="189.2" r="6.25"/><circle cx="1305.7" cy="172.2" r="6.25"/><circle cx="1308.0" cy="178.0" r="6.25"/><circle cx="1310.6" cy="172.4" r="6.25"/><circle cx="1313.0" cy="188.4" r="6.25"/><circle cx="1315.5" cy="182.0" r="6.25"/><circle cx="1317.9" cy="165.8" r="6.25"/><circle cx="1320.0" cy="160.0" r="6.25"/><circle cx="1322.8" cy="164.7" r="6.25"/><circle cx="1325.2" cy="165.5" r="6.25"/><circle cx="1327.7" cy="187.3" r="6.25"/><circle cx="1330.0" cy="169.0" r="6.25"/><circle cx="1332.5" cy="184.4" r="6.25"/><circle cx="1335.0" cy="165.6" r="6.25"/><circle cx="1337.4" cy="185.0" r="6.25"/><circle cx="1340.0" cy="184.0" r="6.25"/><circle cx="1342.3" cy="189.4" r="6.25"/><circle cx="1344.7" cy="180.3" r="6.25"/><circle cx="1347.2" cy="171.7" r="6.25"/><circle cx="1349.0" cy="149.0" r="6.25"/><circle cx="1352.0" cy="177.3" r="6.25"/><circle cx="1354.5" cy="165.7" r="6.25"/><circle cx="1358.0" cy="190.0" r="6.25"/><circle cx="1359.4" cy="166.1" r="6.25"/><circle cx="1361.0" cy="176.0" r="6.25"/><circle cx="1364.2" cy="190.6" r="6.25"/><circle cx="1366.7" cy="184.7" r="6.25"/><circle cx="1369.0" cy="191.0" r="6.25"/><circle cx="1371.5" cy="183.8" r="6.25"/><circle cx="1374.0" cy="190.5" r="6.25"/><circle cx="1376.4" cy="181.7" r="6.25"/><circle cx="1378.9" cy="189.1" r="6.25"/><circle cx="1381.3" cy="188.1" r="6.25"/><circle cx="1383.7" cy="177.1" r="6.25"/><circle cx="1386.2" cy="177.5" r="6.25"/><circle cx="1388.6" cy="178.0" r="6.25"/><circle cx="1391.0" cy="176.8" r="6.25"/><circle cx="1393.5" cy="182.7" r="6.25"/><circle cx="1395.9" cy="176.0" r="6.25"/><circle cx="1398.0" cy="166.0" r="6.25"/><circle cx="1400.0" cy="194.0" r="6.25"/><circle cx="1403.2" cy="174.6" r="6.25"/><circle cx="1405.7" cy="165.5" r="6.25"/><circle cx="1407.0" cy="158.0" r="6.25"/><circle cx="1410.5" cy="185.3" r="6.25"/><circle cx="1412.0" cy="142.0" r="6.25"/><circle cx="1415.4" cy="168.7" r="6.25"/><circle cx="1418.0" cy="177.0" r="6.25"/><circle cx="1421.0" cy="145.0" r="6.25"/><circle cx="1422.7" cy="171.8" r="6.25"/><circle cx="1425.2" cy="175.4" r="6.25"/><circle cx="1427.6" cy="184.7" r="6.25"/><circle cx="1429.0" cy="202.0" r="6.25"/><circle cx="1432.0" cy="152.0" r="6.25"/><circle cx="1434.9" cy="170.7" r="6.25"/><circle cx="1437.0" cy="179.0" r="6.25"/><circle cx="1439.0" cy="231.0" r="6.25"/><circle cx="1442.2" cy="184.8" r="6.25"/><circle cx="1444.7" cy="173.0" r="6.25"/><circle cx="1446.0" cy="192.0" r="6.25"/><circle cx="1449.6" cy="173.9" r="6.25"/><circle cx="1452.0" cy="173.6" r="6.25"/><circle cx="1454.4" cy="159.8" r="6.25"/><circle cx="1456.9" cy="171.4" r="6.25"/><circle cx="1459.3" cy="164.4" r="6.25"/><circle cx="1461.0" cy="208.0" r="6.25"/><circle cx="1463.0" cy="152.0" r="6.25"/><circle cx="1466.0" cy="186.0" r="6.25"/><circle cx="1469.1" cy="159.8" r="6.25"/><circle cx="1471.5" cy="180.9" r="6.25"/><circle cx="1473.0" cy="137.0" r="6.25"/><circle cx="1476.0" cy="149.0" r="6.25"/><circle cx="1478.8" cy="164.5" r="6.25"/><circle cx="1481.3" cy="172.3" r="6.25"/><circle cx="1483.0" cy="163.0" r="6.25"/><circle cx="1486.1" cy="178.9" r="6.25"/><circle cx="1488.6" cy="174.6" r="6.25"/><circle cx="1491.0" cy="168.7" r="6.25"/><circle cx="1493.4" cy="173.6" r="6.25"/><circle cx="1495.9" cy="174.6" r="6.25"/><circle cx="1498.3" cy="180.5" r="6.25"/><circle cx="1500.8" cy="163.2" r="6.25"/><circle cx="1503.2" cy="174.8" r="6.25"/><circle cx="1505.0" cy="147.0" r="6.25"/><circle cx="1508.0" cy="168.0" r="6.25"/><circle cx="1510.5" cy="167.0" r="6.25"/><circle cx="1512.9" cy="167.8" r="6.25"/><circle cx="1515.4" cy="180.3" r="6.25"/><circle cx="1517.8" cy="173.7" r="6.25"/><circle cx="1520.3" cy="175.0" r="6.25"/><circle cx="1522.7" cy="180.0" r="6.25"/><circle cx="1525.1" cy="183.8" r="6.25"/><circle cx="1527.6" cy="172.2" r="6.25"/><circle cx="1530.0" cy="176.4" r="6.25"/><circle cx="1532.0" cy="160.0" r="6.25"/><circle cx="1534.9" cy="173.8" r="6.25"/><circle cx="1537.0" cy="152.0" r="6.25"/><circle cx="1541.0" cy="188.0" r="6.25"/><circle cx="1544.6" cy="174.1" r="6.25"/><circle cx="1547.1" cy="178.5" r="6.25"/><circle cx="1550.0" cy="182.0" r="6.25"/><circle cx="1552.0" cy="172.7" r="6.25"/><circle cx="1554.4" cy="174.7" r="6.25"/><circle cx="1556.8" cy="173.4" r="6.25"/><circle cx="1558.8" cy="187.5" r="6.25"/><circle cx="1561.7" cy="184.6" r="6.25"/><circle cx="1564.1" cy="178.7" r="6.25"/><circle cx="1566.6" cy="183.0" r="6.25"/><circle cx="1568.8" cy="178.8" r="6.25"/><circle cx="1571.5" cy="184.5" r="6.25"/><circle cx="1573.8" cy="163.8" r="6.25"/><circle cx="1576.3" cy="168.0" r="6.25"/><circle cx="1580.0" cy="147.5" r="6.25"/><circle cx="1583.6" cy="175.2" r="6.25"/><circle cx="1585.0" cy="273.8" r="6.25"/><circle cx="1587.5" cy="201.2" r="6.25"/><circle cx="1590.0" cy="161.2" r="6.25"/><circle cx="1593.4" cy="184.4" r="6.25"/><circle cx="1595.0" cy="150.0" r="6.25"/><circle cx="1597.5" cy="182.5" r="6.25"/><circle cx="1600.0" cy="275.0" r="6.25"/><circle cx="1602.5" cy="263.8" r="6.25"/><circle cx="1605.0" cy="192.5" r="6.25"/><circle cx="1608.0" cy="181.7" r="6.25"/><circle cx="1610.0" cy="168.8" r="6.25"/><circle cx="1612.9" cy="164.6" r="6.25"/><circle cx="1615.0" cy="191.2" r="6.25"/><circle cx="1617.8" cy="164.1" r="6.25"/><circle cx="1620.2" cy="171.9" r="6.25"/><circle cx="1623.8" cy="163.8" r="6.25"/><circle cx="1625.1" cy="162.8" r="6.25"/><circle cx="1627.5" cy="166.9" r="6.25"/><circle cx="1630.0" cy="162.8" r="6.25"/><circle cx="1632.5" cy="192.5" r="6.25"/><circle cx="1634.8" cy="177.3" r="6.25"/><circle cx="1637.3" cy="180.1" r="6.25"/><circle cx="1639.7" cy="182.9" r="6.25"/><circle cx="1641.2" cy="146.2" r="6.25"/><circle cx="1645.0" cy="173.8" r="6.25"/><circle cx="1647.0" cy="164.5" r="6.25"/><circle cx="1649.5" cy="178.3" r="6.25"/><circle cx="1651.2" cy="183.8" r="6.25"/><circle cx="1653.8" cy="152.5" r="6.25"/><circle cx="1656.8" cy="176.9" r="6.25"/><circle cx="1659.2" cy="164.1" r="6.25"/><circle cx="1661.7" cy="182.3" r="6.25"/><circle cx="1663.8" cy="157.5" r="6.25"/><circle cx="1667.5" cy="193.8" r="6.25"/><circle cx="1669.0" cy="184.4" r="6.25"/><circle cx="1671.4" cy="165.8" r="6.25"/><circle cx="1673.9" cy="184.0" r="6.25"/><circle cx="1676.2" cy="150.0" r="6.25"/><circle cx="1678.7" cy="170.1" r="6.25"/><circle cx="1681.2" cy="172.3" r="6.25"/><circle cx="1683.6" cy="184.8" r="6.25"/><circle cx="1685.0" cy="206.2" r="6.25"/><circle cx="1687.5" cy="160.0" r="6.25"/><circle cx="1690.9" cy="180.8" r="6.25"/><circle cx="1692.5" cy="181.2" r="6.25"/><circle cx="1695.8" cy="164.0" r="6.25"/><circle cx="1698.2" cy="170.8" r="6.25"/><circle cx="1700.7" cy="172.8" r="6.25"/><circle cx="1702.5" cy="138.8" r="6.25"/><circle cx="1705.0" cy="181.2" r="6.25"/><circle cx="1708.0" cy="168.3" r="6.25"/><circle cx="1710.0" cy="201.2" r="6.25"/><circle cx="1712.5" cy="155.0" r="6.25"/><circle cx="1715.0" cy="173.8" r="6.25"/><circle cx="1717.7" cy="164.6" r="6.25"/><circle cx="1720.2" cy="167.6" r="6.25"/><circle cx="1722.5" cy="156.2" r="6.25"/><circle cx="1725.1" cy="177.8" r="6.25"/><circle cx="1727.5" cy="160.0" r="6.25"/><circle cx="1729.9" cy="173.5" r="6.25"/><circle cx="1731.2" cy="207.5" r="6.25"/><circle cx="1735.0" cy="186.2" r="6.25"/><circle cx="1737.0" cy="158.8" r="6.25"/><circle cx="1739.7" cy="170.5" r="6.25"/><circle cx="1741.2" cy="171.2" r="6.25"/><circle cx="1744.6" cy="159.7" r="6.25"/><circle cx="1747.0" cy="167.6" r="6.25"/><circle cx="1749.4" cy="175.0" r="6.25"/><circle cx="1751.9" cy="172.2" r="6.25"/><circle cx="1754.3" cy="160.8" r="6.25"/><circle cx="1756.7" cy="184.2" r="6.25"/><circle cx="1758.8" cy="186.2" r="6.25"/><circle cx="1761.2" cy="147.5" r="6.25"/><circle cx="1764.1" cy="179.1" r="6.25"/><circle cx="1767.5" cy="141.2" r="6.25"/><circle cx="1768.9" cy="183.7" r="6.25"/><circle cx="1771.2" cy="161.2" r="6.25"/><circle cx="1773.8" cy="161.5" r="6.25"/><circle cx="1776.2" cy="180.0" r="6.25"/><circle cx="1778.7" cy="165.6" r="6.25"/><circle cx="1781.1" cy="159.7" r="6.25"/><circle cx="1783.8" cy="186.2" r="6.25"/><circle cx="1786.0" cy="178.7" r="6.25"/><circle cx="1788.8" cy="160.0" r="6.25"/><circle cx="1790.9" cy="165.5" r="6.25"/><circle cx="1793.3" cy="161.9" r="6.25"/><circle cx="1795.8" cy="169.4" r="6.25"/><circle cx="1797.5" cy="187.5" r="6.25"/><circle cx="1800.6" cy="181.9" r="6.25"/><circle cx="1803.1" cy="179.5" r="6.25"/><circle cx="1805.5" cy="165.0" r="6.25"/><circle cx="1807.9" cy="162.2" r="6.25"/><circle cx="1810.4" cy="182.1" r="6.25"/><circle cx="1812.8" cy="181.2" r="6.25"/><circle cx="1814.7" cy="159.7" r="6.25"/><circle cx="1817.7" cy="173.0" r="6.25"/><circle cx="1820.3" cy="149.4" r="6.25"/><circle cx="1823.1" cy="175.6" r="6.25"/><circle cx="1825.0" cy="176.3" r="6.25"/><circle cx="1827.4" cy="160.4" r="6.25"/><circle cx="1830.6" cy="160.6" r="6.25"/><circle cx="1832.3" cy="160.2" r="6.25"/><circle cx="1834.4" cy="184.0" r="6.25"/><circle cx="1837.2" cy="143.7" r="6.25"/><circle cx="1839.6" cy="177.8" r="6.25"/><circle cx="1841.9" cy="170.9" r="6.25"/><circle cx="1844.5" cy="172.7" r="6.25"/><circle cx="1847.0" cy="164.6" r="6.25"/><circle cx="1849.4" cy="184.2" r="6.25"/><circle cx="1851.8" cy="177.1" r="6.25"/><circle cx="1854.0" cy="178.4" r="6.25"/><circle cx="1855.9" cy="198.1" r="6.25"/><circle cx="1859.1" cy="180.3" r="6.25"/><circle cx="1861.5" cy="166.2" r="6.25"/><circle cx="1864.0" cy="163.8" r="6.25"/><circle cx="1865.9" cy="143.4" r="6.25"/><circle cx="1868.9" cy="180.6" r="6.25"/><circle cx="1871.9" cy="179.4" r="6.25"/><circle cx="1873.8" cy="162.9" r="6.25"/><circle cx="1876.2" cy="180.2" r="6.25"/><circle cx="1878.4" cy="197.2" r="6.25"/><circle cx="1881.1" cy="170.9" r="6.25"/><circle cx="1883.1" cy="181.2" r="6.25"/><circle cx="1885.9" cy="169.0" r="6.25"/><circle cx="1888.4" cy="167.9" r="6.25"/><circle cx="1890.6" cy="163.4" r="6.25"/><circle cx="1893.3" cy="172.1" r="6.25"/><circle cx="1895.3" cy="192.5" r="6.25"/><circle cx="1898.2" cy="179.6" r="6.25"/><circle cx="1900.0" cy="178.4" r="6.25"/><circle cx="1903.0" cy="165.7" r="6.25"/><circle cx="1904.7" cy="163.4" r="6.25"/><circle cx="1907.9" cy="162.8" r="6.25"/><circle cx="1909.9" cy="139.0" r="6.25"/><circle cx="1912.8" cy="171.4" r="6.25"/><circle cx="1915.0" cy="166.2" r="6.25"/><circle cx="1917.7" cy="165.2" r="6.25"/><circle cx="1920.1" cy="162.4" r="6.25"/><circle cx="1922.5" cy="163.6" r="6.25"/><circle cx="1924.3" cy="205.6" r="6.25"/><circle cx="1927.4" cy="161.1" r="6.25"/><circle cx="1929.8" cy="164.5" r="6.25"/><circle cx="1931.8" cy="178.4" r="6.25"/><circle cx="1934.7" cy="167.1" r="6.25"/><circle cx="1936.5" cy="150.3" r="6.25"/><circle cx="1939.3" cy="167.2" r="6.25"/><circle cx="1942.0" cy="167.0" r="6.25"/><circle cx="1944.5" cy="177.6" r="6.25"/><circle cx="1946.9" cy="166.8" r="6.25"/><circle cx="1948.7" cy="157.8" r="6.25"/><circle cx="1951.5" cy="185.0" r="6.25"/><circle cx="1954.2" cy="171.9" r="6.25"/><circle cx="1956.7" cy="164.2" r="6.25"/><circle cx="1959.0" cy="162.5" r="6.25"/><circle cx="1961.5" cy="168.3" r="6.25"/><circle cx="1963.7" cy="170.9" r="6.25"/><circle cx="1966.4" cy="160.2" r="6.25"/><circle cx="1969.3" cy="180.3" r="6.25"/><circle cx="1971.3" cy="165.6" r="6.25"/><circle cx="1973.7" cy="159.8" r="6.25"/><circle cx="1976.2" cy="177.2" r="6.25"/><circle cx="1978.6" cy="172.7" r="6.25"/><circle cx="1980.6" cy="157.8" r="6.25"/><circle cx="1983.5" cy="163.7" r="6.25"/><circle cx="1985.9" cy="170.6" r="6.25"/><circle cx="1988.4" cy="181.8" r="6.25"/><circle cx="1990.0" cy="178.4" r="6.25"/><circle cx="1993.2" cy="161.3" r="6.25"/><circle cx="1995.7" cy="178.8" r="6.25"/><circle cx="1997.4" cy="194.3" r="6.25"/><circle cx="2000.2" cy="147.5" r="6.25"/><circle cx="2003.0" cy="169.0" r="6.25"/><circle cx="2004.9" cy="170.9" r="6.25"/><circle cx="2006.8" cy="141.9" r="6.25"/><circle cx="2010.3" cy="183.1" r="6.25"/><circle cx="2012.7" cy="170.4" r="6.25"/><circle cx="2015.0" cy="162.5" r="6.25"/><circle cx="2017.6" cy="178.8" r="6.25"/><circle cx="2020.0" cy="168.0" r="6.25"/><circle cx="2022.5" cy="170.8" r="6.25"/><circle cx="2024.4" cy="225.3" r="6.25"/><circle cx="2028.1" cy="220.6" r="6.25"/><circle cx="2030.0" cy="155.0" r="6.25"/><circle cx="2031.9" cy="168.1" r="6.25"/><circle cx="2034.7" cy="175.2" r="6.25"/><circle cx="2037.1" cy="182.0" r="6.25"/><circle cx="2039.4" cy="160.6" r="6.25"/><circle cx="2042.0" cy="167.2" r="6.25"/><circle cx="2044.0" cy="175.6" r="6.25"/><circle cx="2046.9" cy="212.2" r="6.25"/><circle cx="2048.7" cy="141.9" r="6.25"/><circle cx="2052.5" cy="200.0" r="6.25"/><circle cx="2054.2" cy="178.4" r="6.25"/><circle cx="2056.2" cy="142.8" r="6.25"/><circle cx="2056.2" cy="161.5" r="6.25"/><circle cx="2059.1" cy="175.6" r="6.25"/><circle cx="2061.9" cy="169.0" r="6.25"/><circle cx="2064.7" cy="175.6" r="6.25"/><circle cx="2066.4" cy="177.1" r="6.25"/><circle cx="2068.4" cy="156.9" r="6.25"/><circle cx="2071.2" cy="174.3" r="6.25"/><circle cx="2073.7" cy="174.2" r="6.25"/><circle cx="2075.9" cy="190.6" r="6.25"/><circle cx="2078.6" cy="170.1" r="6.25"/><circle cx="2081.0" cy="172.9" r="6.25"/><circle cx="2083.4" cy="172.8" r="6.25"/><circle cx="2085.9" cy="188.2" r="6.25"/><circle cx="2088.1" cy="169.0" r="6.25"/><circle cx="2090.8" cy="177.0" r="6.25"/><circle cx="2092.8" cy="200.0" r="6.25"/><circle cx="2095.6" cy="174.6" r="6.25"/><circle cx="2097.5" cy="164.4" r="6.25"/><circle cx="2100.5" cy="172.5" r="6.25"/><circle cx="2102.2" cy="188.7" r="6.25"/><circle cx="2105.4" cy="187.5" r="6.25"/><circle cx="2107.8" cy="187.7" r="6.25"/><circle cx="2110.3" cy="183.2" r="6.25"/><circle cx="2112.5" cy="189.6" r="6.25"/><circle cx="2115.3" cy="157.8" r="6.25"/><circle cx="2118.1" cy="173.7" r="6.25"/><circle cx="2120.0" cy="149.4" r="6.25"/><circle cx="2122.4" cy="165.0" r="6.25"/><circle cx="2124.9" cy="161.9" r="6.25"/><circle cx="2127.3" cy="163.4" r="6.25"/><circle cx="2129.8" cy="167.8" r="6.25"/><circle cx="2132.1" cy="179.4" r="6.25"/><circle cx="2134.0" cy="155.0" r="6.25"/><circle cx="2137.1" cy="161.9" r="6.25"/><circle cx="2139.5" cy="169.2" r="6.25"/><circle cx="2142.5" cy="162.5" r="6.25"/><circle cx="2145.3" cy="154.0" r="6.25"/><circle cx="2146.8" cy="166.1" r="6.25"/><circle cx="2149.3" cy="183.2" r="6.25"/><circle cx="2151.8" cy="179.4" r="6.25"/><circle cx="2154.1" cy="184.3" r="6.25"/><circle cx="2156.6" cy="174.5" r="6.25"/><circle cx="2159.3" cy="185.9" r="6.25"/><circle cx="2161.5" cy="168.1" r="6.25"/><circle cx="2164.0" cy="148.4" r="6.25"/><circle cx="2166.3" cy="186.6" r="6.25"/><circle cx="2168.7" cy="175.6" r="6.25"/><circle cx="2170.6" cy="218.7" r="6.25"/><circle cx="2173.4" cy="191.5" r="6.25"/><circle cx="2176.2" cy="167.2" r="6.25"/><circle cx="2179.0" cy="161.5" r="6.25"/><circle cx="2179.6" cy="531.0" r="6.25"/></g>
</svg>
<svg class="lab" width="2228" height="800" viewBox="0 0 2228 800"><text transform="translate(122.5 26.5) scale(1.035 1.12)" text-anchor="end">3000</text><text transform="translate(122.5 138.5) scale(1.035 1.12)" text-anchor="end">2500</text><text transform="translate(122.5 250.5) scale(1.035 1.12)" text-anchor="end">2000</text><text transform="translate(122.5 362.5) scale(1.035 1.12)" text-anchor="end">1500</text><text transform="translate(122.5 472.5) scale(1.035 1.12)" text-anchor="end">1000</text><text transform="translate(122.5 584.5) scale(1.035 1.12)" text-anchor="end">500</text><text transform="translate(122.5 696.5) scale(1.035 1.12)" text-anchor="end">0</text><text transform="translate(267.0 723.6) scale(1.02 1.09)" text-anchor="middle">14:41:00</text><text transform="translate(413.0 723.6) scale(1.02 1.09)" text-anchor="middle">14:42:00</text><text transform="translate(559.0 723.6) scale(1.02 1.09)" text-anchor="middle">14:43:00</text><text transform="translate(705.0 723.6) scale(1.02 1.09)" text-anchor="middle">14:44:00</text><text transform="translate(851.0 723.6) scale(1.02 1.09)" text-anchor="middle">14:45:00</text><text transform="translate(997.0 723.6) scale(1.02 1.09)" text-anchor="middle">14:46:00</text><text transform="translate(1145.0 723.6) scale(1.02 1.09)" text-anchor="middle">14:47:00</text><text transform="translate(1291.0 723.6) scale(1.02 1.09)" text-anchor="middle">14:48:00</text><text transform="translate(1437.0 723.6) scale(1.02 1.09)" text-anchor="middle">14:49:00</text><text transform="translate(1583.0 723.6) scale(1.02 1.09)" text-anchor="middle">14:50:00</text><text transform="translate(1729.0 723.6) scale(1.02 1.09)" text-anchor="middle">14:51:00</text><text transform="translate(1875.0 723.6) scale(1.02 1.09)" text-anchor="middle">14:52:00</text><text transform="translate(2023.0 723.6) scale(1.02 1.09)" text-anchor="middle">14:53:00</text><text transform="translate(2169.0 723.6) scale(1.02 1.09)" text-anchor="middle">14:54:00</text></svg>
</body></html>
